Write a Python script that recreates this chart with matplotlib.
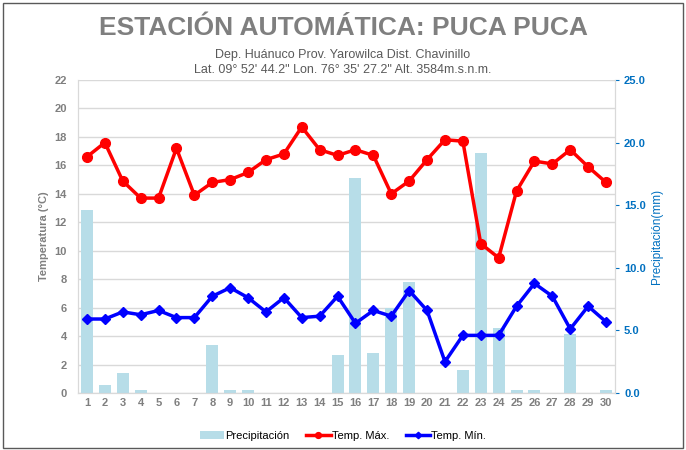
import numpy as np
import matplotlib.pyplot as plt
from matplotlib.patches import Rectangle

plt.rcParams['font.family'] = ['Liberation Sans', 'DejaVu Sans']

dias = list(range(1, 31))
precip = [14.6, 0.6, 1.6, 0.2, 0, 0, 0, 3.8, 0.2, 0.2, 0, 0, 0, 0, 3.0, 17.2,
          3.2, 6.8, 8.85, 0, 0, 1.8, 19.2, 5.2, 0.2, 0.2, 0, 4.75, 0, 0.2]
tmax = [16.6, 17.6, 14.9, 13.7, 13.7, 17.2, 13.9, 14.8, 15.0, 15.5, 16.4, 16.8, 18.7, 17.1, 16.7,
        17.1, 16.7, 14.0, 14.9, 16.4, 17.8, 17.7, 10.5, 9.5, 14.2, 16.3, 16.1, 17.1, 15.9, 14.8]
tmin = [5.2, 5.2, 5.7, 5.5, 5.8, 5.3, 5.3, 6.8, 7.4, 6.7, 5.7, 6.7, 5.3, 5.4, 6.8,
        4.9, 5.8, 5.4, 7.2, 5.8, 2.2, 4.05, 4.05, 4.05, 6.1, 7.7, 6.8, 4.5, 6.1, 5.0]

gris = '#7f7f7f'
azul = '#0070C0'

fig = plt.figure(figsize=(6.86, 4.5), dpi=100)
ax = fig.add_axes([78 / 686, 57 / 450, 537 / 686, 313 / 450])
ax2 = ax.twinx()

# barras de precipitación en el eje derecho
b = ax2.bar(dias, precip, width=0.67, color='#B7DDE8', zorder=1, label='Precipitación')
ax2.set_ylim(0, 25)
ax2.set_yticks(np.arange(0, 25.1, 5))
ax2.set_yticklabels([f'{v:.1f}' for v in np.arange(0, 25.1, 5)])
ax2.tick_params(axis='y', colors=azul, labelsize=8, length=3)
for t in ax2.get_yticklabels():
    t.set_fontweight('bold')
ax2.set_ylabel('Precipitación(mm)', color=azul, fontsize=8.5)

# temperaturas en el eje izquierdo, dibujadas encima
ax.set_zorder(ax2.get_zorder() + 1)
ax.patch.set_visible(False)
l1, = ax.plot(dias, tmax, color='#FF0000', lw=2.5, marker='o', ms=7, label='Temp. Máx.')
l2, = ax.plot(dias, tmin, color='#0000FF', lw=2.5, marker='D', ms=5.5, label='Temp. Mín.')
ax.set_ylim(0, 22)
ax.set_yticks(range(0, 23, 2))
ax.set_xlim(0.5, 30.5)
ax.set_xticks(dias)
ax.tick_params(axis='both', colors=gris, labelsize=8, length=0)
ax.tick_params(axis='y', pad=8)
for t in ax.get_yticklabels() + ax.get_xticklabels():
    t.set_fontweight('bold')
ax.set_ylabel('Temperatura (°C)', color=gris, fontsize=8, fontweight='bold')

for a in (ax, ax2):
    a.spines['top'].set_visible(False)
    a.spines['left'].set_color('#d9d9d9')
    a.spines['right'].set_color('#d9d9d9')
    a.spines['bottom'].set_color('#d9d9d9')

# líneas de cuadrícula detrás de las barras
for v in range(0, 23, 2):
    ax2.axhline(v * 25 / 22, color='#d9d9d9', lw=1, zorder=0)

fig.text(0.5, 1 - 28 / 450, 'ESTACIÓN AUTOMÁTICA: PUCA PUCA', ha='center', va='center',
         fontsize=19, fontweight='bold', color=gris)
fig.text(0.5, 1 - 55 / 450, 'Dep. Huánuco Prov. Yarowilca Dist. Chavinillo', ha='center',
         va='center', fontsize=9, color='#595959')
fig.text(0.5, 1 - 70 / 450, 'Lat. 09° 52\' 44.2" Lon. 76° 35\' 27.2" Alt. 3584m.s.n.m.',
         ha='center', va='center', fontsize=9, color='#595959')

fig.legend([b, l1, l2], ['Precipitación', 'Temp. Máx.', 'Temp. Mín.'], loc='center',
           bbox_to_anchor=(0.5, 1 - 436 / 450), ncol=3, frameon=False, fontsize=8,
           handlelength=2.2, columnspacing=1.5, handletextpad=0.1, markerscale=0.6)

fig.patches.append(Rectangle((3 / 686, 2 / 450), 680 / 686, 445 / 450, transform=fig.transFigure,
                             fill=False, ec='#595959', lw=1))

fig.savefig('out.png', dpi=100)
